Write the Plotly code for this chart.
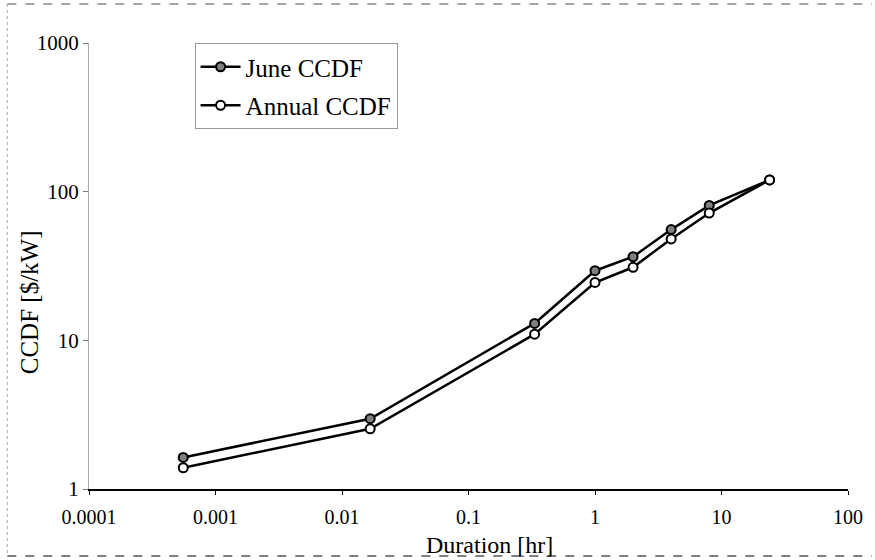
import plotly.graph_objects as go

duration_hr = [0.000556, 0.0167, 0.333, 1, 2, 4, 8, 24]
june_ccdf = [1.63, 2.97, 13.0, 29.4, 36.5, 55.6, 80.8, 120]
annual_ccdf = [1.39, 2.54, 11.0, 24.5, 31.0, 48.1, 71.8, 120]

x_ticks = [0.0001, 0.001, 0.01, 0.1, 1, 10, 100]
x_tick_text = ["0.0001", "0.001", "0.01", "0.1", "1", "10", "100"]
y_ticks = [1, 10, 100, 1000]
y_tick_text = ["1", "10", "100", "1000"]

FONT = "Liberation Serif, Times New Roman, serif"

fig = go.Figure()
fig.add_trace(go.Scatter(
    x=duration_hr, y=june_ccdf, mode="lines+markers", name="June CCDF",
    legendgroup="a",
    line=dict(color="black", width=2.5),
    marker=dict(symbol="circle", size=9, color="#808080",
                line=dict(color="black", width=2)),
))
fig.add_trace(go.Scatter(
    x=duration_hr, y=annual_ccdf, mode="lines+markers", name="Annual CCDF",
    legendgroup="b",
    line=dict(color="black", width=2.5),
    marker=dict(symbol="circle", size=9, color="white",
                line=dict(color="black", width=2)),
))

W, H = 875, 560
L, R, T, B = 89, 24, 43, 71
pw, ph = W - L - R, H - T - B

def px(xp):
    return (xp - L) / pw

def py(yp):
    return (H - B - yp) / ph

fig.update_layout(
    width=W, height=H,
    margin=dict(l=L, r=R, t=T, b=B),
    paper_bgcolor="white", plot_bgcolor="white",
    font=dict(family=FONT, color="black", size=21),
    showlegend=True,
    legend=dict(
        x=px(195), y=py(43), xanchor="left", yanchor="top",
        bgcolor="white", bordercolor="#999999", borderwidth=1,
        font=dict(family=FONT, size=25, color="black"),
        tracegroupgap=3, traceorder="grouped",
        itemwidth=40,
    ),
    xaxis=dict(
        type="log", range=[-4, 2],
        tickvals=x_ticks, ticktext=x_tick_text,
        ticks="outside", ticklen=4, tickcolor="black",
        showline=True, linecolor="black", linewidth=1.5,
        showgrid=False, zeroline=False, mirror=False,
        tickfont=dict(family=FONT, size=20, color="black"),
        ticklabelstandoff=5,
    ),
    yaxis=dict(
        type="log", range=[0, 3],
        tickvals=y_ticks, ticktext=y_tick_text,
        ticks="outside", ticklen=5, tickcolor="#777777",
        showline=True, linecolor="#aaaaaa", linewidth=1,
        showgrid=False, zeroline=False,
        tickfont=dict(family=FONT, size=21, color="black"),
    ),
    annotations=[
        dict(text="Duration [hr]", xref="paper", yref="paper",
             x=px(491), y=py(545), xanchor="center", yanchor="middle",
             showarrow=False, font=dict(family=FONT, size=24, color="black")),
        dict(text="CCDF [$/kW]", xref="paper", yref="paper",
             x=px(29), y=py(302), xanchor="center", yanchor="middle",
             textangle=-90, showarrow=False,
             font=dict(family=FONT, size=25, color="black")),
    ],
    shapes=[
        dict(type="line", xref="paper", yref="paper",
             x0=px(7), x1=px(875), y0=py(4), y1=py(4),
             line=dict(color="#888888", width=1.5, dash="dash")),
        dict(type="line", xref="paper", yref="paper",
             x0=px(7), x1=px(875), y0=py(556), y1=py(556),
             line=dict(color="#555555", width=1.5, dash="dash")),
        dict(type="line", xref="paper", yref="paper",
             x0=px(7), x1=px(7), y0=py(4), y1=py(556),
             line=dict(color="#aaaaaa", width=1, dash="dot")),
    ],
)

fig.write_html("out.html")
